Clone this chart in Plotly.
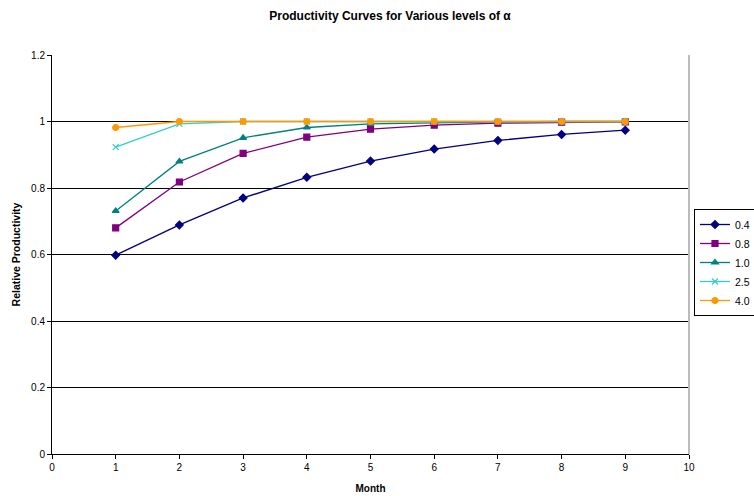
import plotly.graph_objects as go

months = [1, 2, 3, 4, 5, 6, 7, 8, 9]
alpha_labels = ["0.4", "0.8", "1.0", "2.5", "4.0"]
prod_04 = [0.598, 0.689, 0.770, 0.832, 0.881, 0.917, 0.943, 0.961, 0.974]
prod_08 = [0.680, 0.818, 0.904, 0.953, 0.977, 0.989, 0.995, 0.998, 0.999]
prod_10 = [0.731, 0.880, 0.951, 0.982, 0.993, 0.997, 0.999, 1.0, 1.0]
prod_25 = [0.923, 0.993, 1.0, 1.0, 1.0, 1.0, 1.0, 1.0, 1.0]
prod_40 = [0.982, 1.0, 1.0, 1.0, 1.0, 1.0, 1.0, 1.0, 1.0]

series = [prod_04, prod_08, prod_10, prod_25, prod_40]
colors = ["#000080", "#800080", "#008080", "#33CCCC", "#FF9900"]
symbols = ["diamond", "square", "triangle-up", "x-thin-open", "circle"]
sizes = [6, 6, 6, 6, 6]

fig = go.Figure()
for lab, ys, c, s, sz in zip(alpha_labels, series, colors, symbols, sizes):
    fig.add_trace(go.Scatter(
        x=months, y=ys, name=lab, mode="lines+markers",
        line=dict(color=c, width=1.3),
        marker=dict(symbol=s, size=sz, color=c, line=dict(color=c, width=1.2)),
    ))

font = "Liberation Sans, Arial, sans-serif"
fig.update_layout(
    width=754, height=496,
    margin=dict(l=52, r=65, t=55, b=42, autoexpand=False),
    paper_bgcolor="white", plot_bgcolor="white",
    font=dict(family=font, size=10, color="black"),
    title=dict(text="<b>Productivity Curves for Various levels of α</b>",
               x=390 / 754, xanchor="center", y=1 - 16 / 496, yanchor="middle",
               font=dict(size=12)),
    xaxis=dict(range=[0, 10], dtick=1, tick0=0, showgrid=False,
               showline=True, linecolor="black", linewidth=1,
               ticks="outside", ticklen=4, tickcolor="black",
               zeroline=False, mirror=False,
               title=dict(text="<b>Month</b>", font=dict(size=10), standoff=12)),
    yaxis=dict(range=[0, 1.2], dtick=0.2, tick0=0, showgrid=True,
               gridcolor="black", gridwidth=1,
               showline=True, linecolor="black", linewidth=1,
               ticks="outside", ticklen=4, tickcolor="black",
               zeroline=False,
               title=dict(text="<b>Relative Productivity</b>", font=dict(size=10.5), standoff=8)),
    legend=dict(x=(694 - 52) / 637, xanchor="left", y=(454 - 209) / 399, yanchor="top",
                bordercolor="black", borderwidth=1, bgcolor="white",
                font=dict(size=10.5), tracegroupgap=0, itemwidth=30),
    showlegend=True,
)
fig.add_shape(type="line", xref="paper", yref="paper", x0=1, x1=1, y0=0, y1=1,
              line=dict(color="#BBBBBB", width=2))

fig.write_html("out.html")
